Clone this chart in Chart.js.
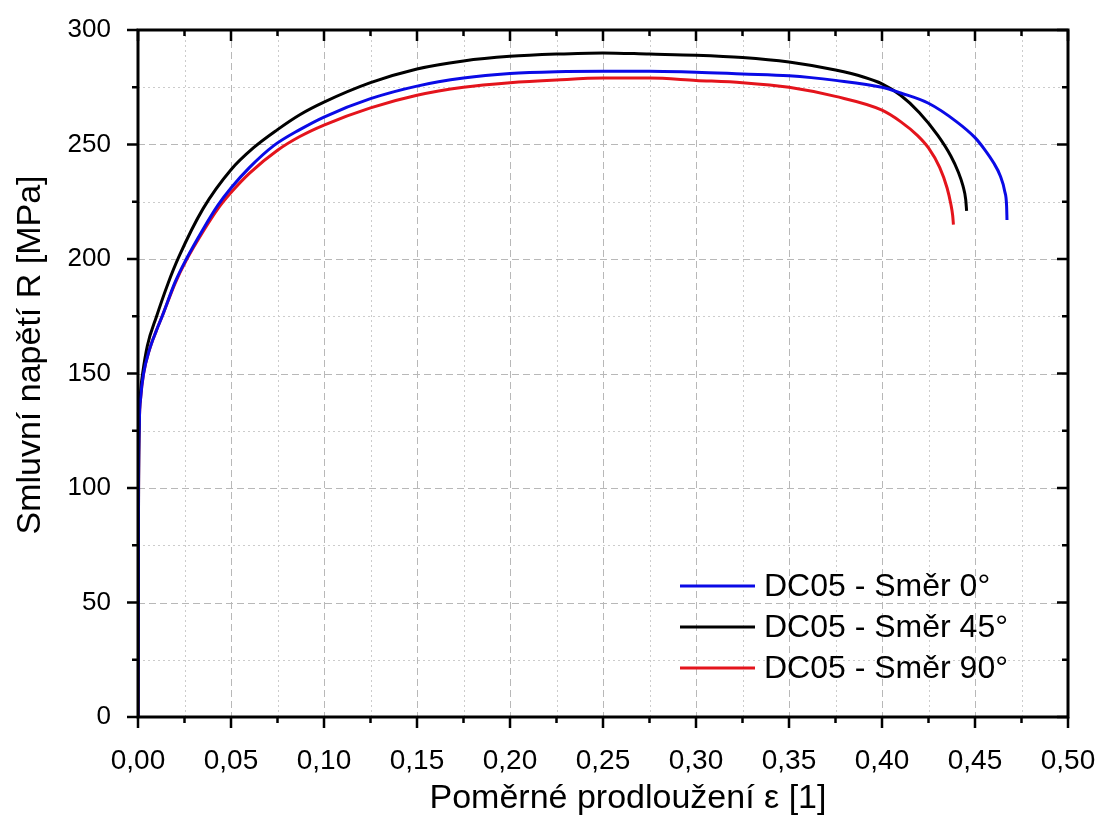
<!DOCTYPE html>
<html>
<head>
<meta charset="utf-8">
<title>DC05 - smluvní diagram</title>
<script src="https://cdn.jsdelivr.net/npm/chart.js@4.4.1/dist/chart.umd.min.js"></script>
<style>
  html, body { margin: 0; padding: 0; background: #fff; }
  #wrap { width: 1099px; height: 818px; }
</style>
</head>
<body>
<div id="wrap"><canvas id="chart" width="1099" height="818"></canvas></div>
<script>
/* ================= DATA ================= */

const seriesLabels = ["DC05 - Směr 0°", "DC05 - Směr 45°", "DC05 - Směr 90°"];
const seriesColors = ["#0a0ae6", "#000000", "#e4141c"];

// Směr 0°
const strain0 = [0, 0.0003, 0.0007, 0.0015, 0.003, 0.006, 0.010, 0.013, 0.020, 0.026, 0.035, 0.043, 0.050, 0.060, 0.073, 0.087, 0.100, 0.125, 0.150, 0.175, 0.200, 0.225, 0.250, 0.275, 0.300, 0.325, 0.350, 0.375, 0.400, 0.410, 0.425, 0.440, 0.450, 0.455, 0.460, 0.4635, 0.466, 0.467, 0.4672];
const stress0 = [0, 100, 128, 140, 150, 160, 169, 175, 190, 200, 213, 223.5, 231, 240, 249.5, 256.5, 262, 270, 275.5, 279, 281, 281.8, 282, 282, 281.6, 280.8, 280, 278, 275, 272.5, 268, 260, 253, 248, 242, 236.5, 229.5, 223, 217];

// Směr 45°
const strain45 = [0, 0.0003, 0.0007, 0.0015, 0.0025, 0.005, 0.010, 0.016, 0.022, 0.035, 0.050, 0.062, 0.075, 0.087, 0.100, 0.125, 0.150, 0.175, 0.200, 0.225, 0.250, 0.275, 0.300, 0.325, 0.350, 0.375, 0.390, 0.400, 0.410, 0.420, 0.430, 0.437, 0.441, 0.4435, 0.445, 0.4455];
const stress45 = [0, 100, 130, 143, 150, 162, 175, 189, 201, 222, 239, 248.5, 256.5, 263, 268.5, 277, 283, 286.5, 288.5, 289.5, 290, 289.5, 289, 288, 286, 282.5, 279.5, 276.5, 271.5, 264, 254, 245, 238, 232, 226, 221];

// Směr 90°
const strain90 = [0, 0.0003, 0.0007, 0.0015, 0.003, 0.006, 0.010, 0.013, 0.020, 0.026, 0.035, 0.043, 0.050, 0.060, 0.075, 0.087, 0.100, 0.125, 0.150, 0.175, 0.200, 0.225, 0.250, 0.275, 0.300, 0.325, 0.350, 0.375, 0.400, 0.410, 0.419, 0.425, 0.431, 0.435, 0.437, 0.438, 0.4384];
const stress90 = [0, 100, 128, 140, 150, 160, 169, 175, 189.5, 199.5, 212, 222, 229, 237.5, 247.5, 253.5, 258.5, 266, 271.5, 275, 277, 278.2, 279, 279, 278, 277, 275, 271, 265, 260, 254, 248.5, 240, 231, 224, 219, 215];

// axis ranges / steps
const xMin = 0, xMax = 0.5, xMajor = 0.05, xMinor = 0.025;
const yMin = 0, yMax = 300, yMajor = 50, yMinor = 25;

const xTitle = "Poměrné prodloužení ε [1]";
const yTitle = "Smluvní napětí R [MPa]";

/* ================= HELPERS ================= */

function toPoints(xs, ys) {
  return xs.map((x, i) => ({ x, y: ys[i] }));
}

const FONT = "Arial, 'Liberation Sans', sans-serif";

/* ================= FRAME, GRID, TICKS, TITLES, LEGEND ================= */

const framePlugin = {
  id: "frame",
  beforeDatasetsDraw(chart) {
    const { ctx, chartArea: a, scales } = chart;
    const xs = scales.x, ys = scales.y;
    ctx.save();
    ctx.lineWidth = 1;

    // vertical grid
    for (let i = 1; xMin + i * xMinor < xMax - 1e-9; i++) {
      const px = Math.round(xs.getPixelForValue(xMin + i * xMinor)) + 0.5;
      const major = i % 2 === 0;
      ctx.strokeStyle = major ? "#b8b8b8" : "#cccccc";
      ctx.setLineDash(major ? [7, 4] : [2, 3]);
      ctx.beginPath();
      ctx.moveTo(px, a.top);
      ctx.lineTo(px, a.bottom);
      ctx.stroke();
    }
    // horizontal grid
    for (let i = 1; yMin + i * yMinor < yMax - 1e-9; i++) {
      const py = Math.round(ys.getPixelForValue(yMin + i * yMinor)) + 0.5;
      const major = i % 2 === 0;
      ctx.strokeStyle = major ? "#b8b8b8" : "#cccccc";
      ctx.setLineDash(major ? [7, 4] : [2, 3]);
      ctx.beginPath();
      ctx.moveTo(a.left, py);
      ctx.lineTo(a.right, py);
      ctx.stroke();
    }
    ctx.restore();
  },
  afterDatasetsDraw(chart) {
    const { ctx, chartArea: a, scales } = chart;
    const xs = scales.x, ys = scales.y;
    ctx.save();
    ctx.strokeStyle = "#000";
    ctx.setLineDash([]);

    // ticks
    ctx.lineWidth = 2.5;
    for (let i = 0; xMin + i * xMinor <= xMax + 1e-9; i++) {
      const px = xs.getPixelForValue(xMin + i * xMinor);
      const len = i % 2 === 0 ? 11 : 6;
      ctx.beginPath();
      ctx.moveTo(px, a.bottom);
      ctx.lineTo(px, a.bottom + len);   // outward at bottom
      ctx.moveTo(px, a.top);
      ctx.lineTo(px, a.top + len);      // inward at top
      ctx.stroke();
    }
    for (let i = 0; yMin + i * yMinor <= yMax + 1e-9; i++) {
      const py = ys.getPixelForValue(yMin + i * yMinor);
      const len = i % 2 === 0 ? 11 : 6;
      ctx.beginPath();
      ctx.moveTo(a.left, py);
      ctx.lineTo(a.left - len, py);     // outward at left
      ctx.moveTo(a.right, py);
      ctx.lineTo(a.right - len, py);    // inward at right
      ctx.stroke();
    }

    // frame
    ctx.lineWidth = 3;
    ctx.strokeRect(a.left, a.top, a.right - a.left, a.bottom - a.top);
    ctx.restore();
  },
  afterDraw(chart) {
    const { ctx } = chart;
    ctx.save();
    ctx.fillStyle = "#000";
    ctx.textAlign = "center";
    ctx.textBaseline = "middle";

    // axis titles
    ctx.font = "34px " + FONT;
    ctx.fillText(xTitle, 628, 799);
    ctx.save();
    ctx.translate(31, 355);
    ctx.rotate(-Math.PI / 2);
    ctx.fillText(yTitle, 0, 0);
    ctx.restore();

    // legend inside plot, bottom right
    const x0 = 680, x1 = 755, tx = 764;
    const rows = [586, 627, 668];
    ctx.font = "32px " + FONT;
    ctx.textAlign = "left";
    chart.data.datasets.forEach((ds, i) => {
      ctx.strokeStyle = ds.borderColor;
      ctx.lineWidth = 3;
      ctx.beginPath();
      ctx.moveTo(x0, rows[i]);
      ctx.lineTo(x1, rows[i]);
      ctx.stroke();
      ctx.fillText(ds.label, tx, rows[i] + 1);
    });
    ctx.restore();
  }
};

/* ================= CHART ================= */

const datasets = [
  { label: seriesLabels[0], data: toPoints(strain0, stress0), borderColor: seriesColors[0] },
  { label: seriesLabels[1], data: toPoints(strain45, stress45), borderColor: seriesColors[1] },
  { label: seriesLabels[2], data: toPoints(strain90, stress90), borderColor: seriesColors[2] },
].map(ds => ({
  ...ds,
  showLine: true,
  pointRadius: 0,
  borderWidth: 3,
  fill: false,
  cubicInterpolationMode: "monotone",
}));

new Chart(document.getElementById("chart"), {
  type: "scatter",
  data: { datasets },
  options: {
    responsive: false,
    animation: false,
    devicePixelRatio: 1,
    layout: { padding: { left: 0, top: 30, right: 31, bottom: 0 } },
    plugins: {
      legend: { display: false },
      tooltip: { enabled: false },
    },
    scales: {
      x: {
        type: "linear",
        min: xMin,
        max: xMax,
        grid: { display: false },
        border: { display: false },
        ticks: {
          stepSize: xMajor,
          color: "#000",
          padding: 19,
          maxRotation: 0,
          font: { family: FONT, size: 28 },
          callback: v => v.toFixed(2).replace(".", ","),
        },
        afterFit: s => {
          s.height = 101;
          s.paddingLeft = 0;
          s.paddingRight = 0;
        },
      },
      y: {
        type: "linear",
        min: yMin,
        max: yMax,
        grid: { display: false },
        border: { display: false },
        ticks: {
          stepSize: yMajor,
          color: "#000",
          padding: 19,
          font: { family: FONT, size: 26 },
        },
        afterFit: s => {
          s.width = 138;
          s.paddingTop = 0;
          s.paddingBottom = 0;
        },
      },
    },
  },
  plugins: [framePlugin],
});
</script>
</body>
</html>
